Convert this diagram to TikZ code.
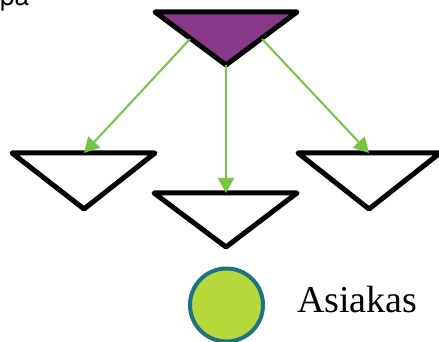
\documentclass[tikz,border=0pt]{standalone}
\usepackage{fontspec}
\setmainfont{Liberation Serif}
\newfontfamily\sansf{TeX Gyre Heros}
\usetikzlibrary{arrows.meta}
\definecolor{purp}{HTML}{88398A}
\definecolor{arrg}{HTML}{76C442}
\definecolor{circf}{HTML}{B5D83A}
\definecolor{circs}{HTML}{1D7385}
\begin{document}
\begin{tikzpicture}[x=1pt,y=1pt,
  tri/.style={draw=black,line width=5pt,line join=round},
  conn/.style={draw=arrg,line width=2pt,-{Triangle[length=15pt,width=16pt]}}]
\useasboundingbox (0,0) rectangle (439,342);
% triangles
\draw[tri,fill=purp] (155,330) -- (297,330) -- (226,277) -- cycle;
\draw[tri,fill=white] (12,189) -- (155,189) -- (84,133) -- cycle;
\draw[tri,fill=white] (154,149) -- (297,149) -- (226,95) -- cycle;
\draw[tri,fill=white] (298,189) -- (440,189) -- (369,133) -- cycle;
\coordinate (topL) at (190,303);
\coordinate (topM) at (226,277);
\coordinate (topR) at (262,303);
\coordinate (left) at (84,189);
\coordinate (mid) at (226,149);
\coordinate (right) at (369,189);
\draw[conn] (topL) -- (left);
\draw[conn] (topM) -- (mid);
\draw[conn] (topR) -- (right);
% legend
\node[circle,draw=circs,line width=4pt,fill=circf,minimum size=73pt,inner sep=0pt] (cust) at (226.5,37) {};
\node[anchor=base west,inner sep=0pt,font=\fontsize{38}{40}\selectfont] (lbl) at (297,29) {Asiakas};
\node[anchor=base west,inner sep=0pt,font=\sansf\fontsize{26}{28}\selectfont] (pa) at (0,336) {pa};
\end{tikzpicture}
\end{document}
